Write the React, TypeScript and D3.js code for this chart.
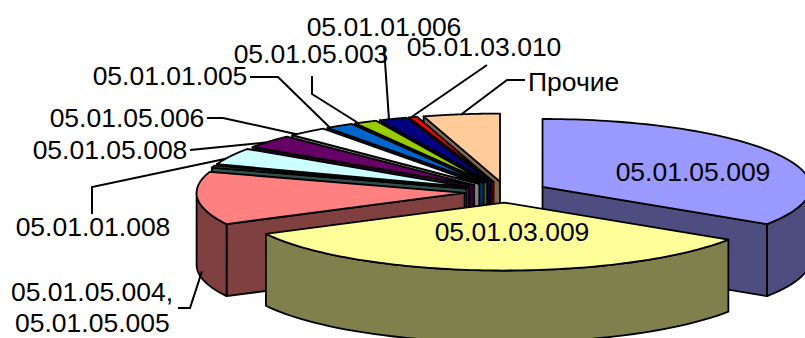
import React from "react";
import * as d3 from "d3";

// Share of each budget code, in percent, clockwise from twelve o'clock.
const codes = [
  "05.01.05.009", "05.01.03.009", "05.01.05.004, 05.01.05.005", "05.01.01.008 (sliver)",
  "05.01.01.008", "05.01.05.008", "05.01.05.006", "05.01.01.005",
  "05.01.05.003", "05.01.01.006", "05.01.03.010", "Прочие",
];
const shares = [34.2, 33.2, 12.6, 0.5, 4.0, 3.2, 2.4, 1.7, 1.4, 1.7, 0.5, 4.6];
const topColors = [
  "#9999FF", "#FFFF99", "#FF8080", "#669999", "#CCFFFF", "#660066",
  "#FFFFFF", "#0066CC", "#99CC00", "#000080", "#FF0000", "#FFCC99",
];

// Labels outside the pie: text lines, anchor, x, first baseline, the leader's elbows,
// how far along the slice's rim the leader lands, and how far down its wall.
type Callout = {
  lines: string[]; anchor: string; x: number; y: number; slice: number;
  elbows: [number, number][]; reach: number; drop: number;
};
const callouts: Callout[] = [
  { lines: ["05.01.05.004,", "05.01.05.005"], anchor: "start", x: 11, y: 301, slice: 2, elbows: [[178, 308], [190, 308]], reach: 0.35, drop: 65 },
  { lines: ["05.01.01.008"], anchor: "middle", x: 93, y: 236, slice: 4, elbows: [[92, 214], [92, 187]], reach: 0.35, drop: 0 },
  { lines: ["05.01.05.008"], anchor: "middle", x: 110, y: 159, slice: 5, elbows: [[190, 150]], reach: 0.4, drop: 0 },
  { lines: ["05.01.05.006"], anchor: "middle", x: 127, y: 127, slice: 6, elbows: [[207, 118], [223, 118]], reach: 0.15, drop: 0 },
  { lines: ["05.01.01.005"], anchor: "middle", x: 170, y: 85, slice: 7, elbows: [[250, 77], [278, 77]], reach: 0.1, drop: 0 },
  { lines: ["05.01.05.003"], anchor: "middle", x: 311, y: 63, slice: 8, elbows: [[312, 76], [312, 94]], reach: 0.15, drop: 0 },
  { lines: ["05.01.01.006"], anchor: "middle", x: 384, y: 36, slice: 9, elbows: [[384, 47]], reach: 0.35, drop: 0 },
  { lines: ["05.01.03.010"], anchor: "middle", x: 484, y: 56, slice: 10, elbows: [[487, 65]], reach: 0.25, drop: 0 },
  { lines: ["Прочие"], anchor: "start", x: 528, y: 91, slice: 11, elbows: [[525, 80], [507, 80]], reach: 0.5, drop: 0 },
];
const insideLabels = [
  { text: "05.01.05.009", x: 693, y: 181 },
  { text: "05.01.03.009", x: 512, y: 241 },
];

const WIDTH = 805;
const HEIGHT = 338;
const CX = 506;
const CY = 192;
const RX = 268;
const RY = 68;
const DEPTH = 72;
const EXPLODE = 0.155;
const LINE_GAP = 31;
const FONT = "'Liberation Sans', Arial, sans-serif";

const line = d3.line<[number, number]>();

export default function App() {
  const arcs = d3.pie<number>().sort(null)(shares);
  const slices = arcs.map((a, i) => {
    const mid = (a.startAngle + a.endAngle) / 2;
    const ox = CX + EXPLODE * RX * Math.sin(mid);
    const oy = CY - EXPLODE * RY * Math.cos(mid);
    const at = (t: number, drop = 0): [number, number] => [
      ox + RX * Math.sin(t),
      oy - RY * Math.cos(t) + drop,
    ];
    return { i, mid, start: a.startAngle, end: a.endAngle, ox, oy, at };
  });

  // Far slices are painted first so the nearer ones cover their walls.
  const order = [...slices].sort((a, b) => d3.descending(Math.cos(a.mid), Math.cos(b.mid)));

  const wallColor = (i: number) => {
    const c = d3.rgb(topColors[i]);
    return d3.rgb(c.r * 0.5, c.g * 0.5, c.b * 0.5).formatHex();
  };

  return (
    <svg
      width={WIDTH}
      height={HEIGHT}
      viewBox={`0 0 ${WIDTH} ${HEIGHT}`}
      style={{ position: "absolute", left: 0, top: 0, background: "#fff" }}
    >
      {order.map((s) => {
        const wall = wallColor(s.i);
        const stroke = { stroke: "#000", strokeWidth: 1.8, strokeLinejoin: "round" as const };
        const walls: string[] = [];
        const apex: [number, number] = [s.ox, s.oy];
        const apexLow: [number, number] = [s.ox, s.oy + DEPTH];
        // A radial wall shows only when its outward normal faces the viewer.
        if (Math.sin(s.start) < -1e-6) {
          walls.push(line([apex, s.at(s.start), s.at(s.start, DEPTH), apexLow])! + "Z");
        }
        if (Math.sin(s.end) > 1e-6) {
          walls.push(line([apex, s.at(s.end), s.at(s.end, DEPTH), apexLow])! + "Z");
        }
        // The curved outer wall exists only on the front half of the ellipse.
        const a0 = Math.max(s.start, Math.PI / 2);
        const a1 = Math.min(s.end, (3 * Math.PI) / 2);
        if (a1 > a0) {
          const ts = d3.range(0, 61).map((k) => a0 + ((a1 - a0) * k) / 60);
          const upper = ts.map((t) => s.at(t));
          const lower = ts.map((t) => s.at(t, DEPTH)).reverse();
          walls.push(line([...upper, ...lower])! + "Z");
        }
        const rim = d3.range(0, 91).map((k) => s.at(s.start + ((s.end - s.start) * k) / 90));
        return (
          <g key={s.i} data-code={codes[s.i]}>
            {walls.map((d, n) => (
              <path key={n} d={d} fill={wall} {...stroke} />
            ))}
            <path d={line([apex, ...rim])! + "Z"} fill={topColors[s.i]} {...stroke} />
          </g>
        );
      })}

      {callouts.map((c) => {
        const s = slices[c.slice];
        const tip = s.at(s.start + (s.end - s.start) * c.reach, c.drop);
        return (
          <path
            key={c.slice}
            d={line([...c.elbows, tip])!}
            fill="none"
            stroke="#000"
            strokeWidth={2}
          />
        );
      })}

      <g fontFamily={FONT} fontSize={26.5} fill="#000">
        {callouts.map((c) =>
          c.lines.map((t, n) => (
            <text key={t} x={c.x + (n === 1 ? 4 : 0)} y={c.y + n * LINE_GAP} textAnchor={c.anchor}>
              {t}
            </text>
          ))
        )}
        {insideLabels.map((l) => (
          <text key={l.text} x={l.x} y={l.y} textAnchor="middle">
            {l.text}
          </text>
        ))}
      </g>
    </svg>
  );
}
